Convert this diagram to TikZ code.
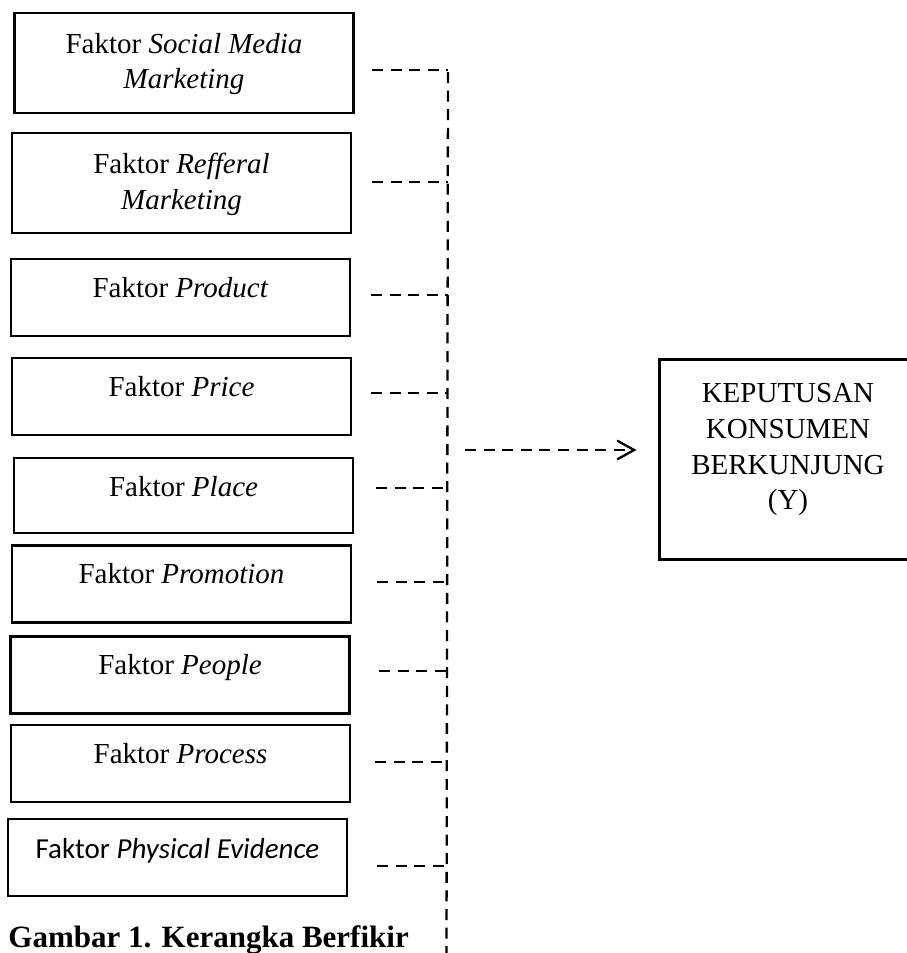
\documentclass[tikz,border=0pt]{standalone}
\usepackage{fontspec}
\setmainfont{Liberation Serif}
\newfontfamily\calibri{Carlito}
\usetikzlibrary{arrows.meta,positioning}

\begin{document}
\begin{tikzpicture}[x=0.5pt, y=-0.5pt,
  box/.style={draw, line width=1.35pt, minimum width=169.5pt, minimum height=38.5pt, inner sep=0pt},
  lbl/.style={align=center, inner sep=0pt, font=\fontsize{14.5}{17.8}\selectfont},
  link/.style={line width=1.15pt, dash pattern=on 5.5pt off 3.8pt}
]
\useasboundingbox (0,0) rectangle (906,953);

% factor boxes
\node[box, minimum height=50pt] (b1) at (184,63) {};
\node[box, minimum height=50pt] (b2) at (181.5,183) {};
\node[box] (b3) at (180.5,297.5) {};
\node[box] (b4) at (181.5,396.5) {};
\node[box, minimum height=37.5pt] (b5) at (183.5,495.5) {};
\node[box] (b6) at (181.5,584) {};
\node[box] (b7) at (180,675) {};
\node[box] (b8) at (180.5,763.5) {};
\node[box] (b9) at (177.5,857.5) {};

\node[lbl, below=10.5pt of b1.north] (t1) {Faktor \textit{Social Media}\\\textit{Marketing}};
\node[lbl, below=10.5pt of b2.north] (t2) {Faktor \textit{Refferal}\\\textit{Marketing}};
\node[lbl, below=9.5pt of b3.north] (t3) {Faktor \textit{Product}};
\node[lbl, below=9.5pt of b4.north] (t4) {Faktor \textit{Price}};
\node[lbl, below=9.5pt of b5.north] (t5) {Faktor \textit{Place}};
\node[lbl, below=9.5pt of b6.north] (t6) {Faktor \textit{Promotion}};
\node[lbl, below=9.5pt of b7.north] (t7) {Faktor \textit{People}};
\node[lbl, below=9.5pt of b8.north] (t8) {Faktor \textit{Process}};
\node[lbl, below=10pt of b9.north] (t9) {\calibri Faktor \textit{Physical Evidence}};

% outcome box
\node[draw, line width=1.5pt, minimum width=129pt, minimum height=100pt, inner sep=0pt] (kep) at (788,459) {};
\node[lbl, below=12.9pt of kep.north] (ky) {KEPUTUSAN\\KONSUMEN\\BERKUNJUNG\\(Y)};

% dashed bus
\coordinate (bt) at (448,72);
\coordinate (bb) at (446.5,953);
\draw[link] (bt) -- (bb);
\foreach \i/\cx/\cy in {1/372/70, 2/372/182, 3/371/295, 4/371/393, 5/376/488,
                        6/377/582, 7/379/671, 8/375/762, 9/377/866}{
  \coordinate (c\i) at (\cx,\cy);
  \draw[link] (c\i) -- (c\i -| bt);
}
\coordinate (ar) at (465,450);
\draw[link, -{Straight Barb[length=8.5pt, width=9.4pt]}, shorten >=10.5pt] (ar) -- (ar -| kep.west);

\node[anchor=base west, inner sep=0pt, font=\bfseries\fontsize{15.5}{18}\selectfont] (cap) at (8,947) {Gambar 1. Kerangka Berfikir};
\end{tikzpicture}
\end{document}
